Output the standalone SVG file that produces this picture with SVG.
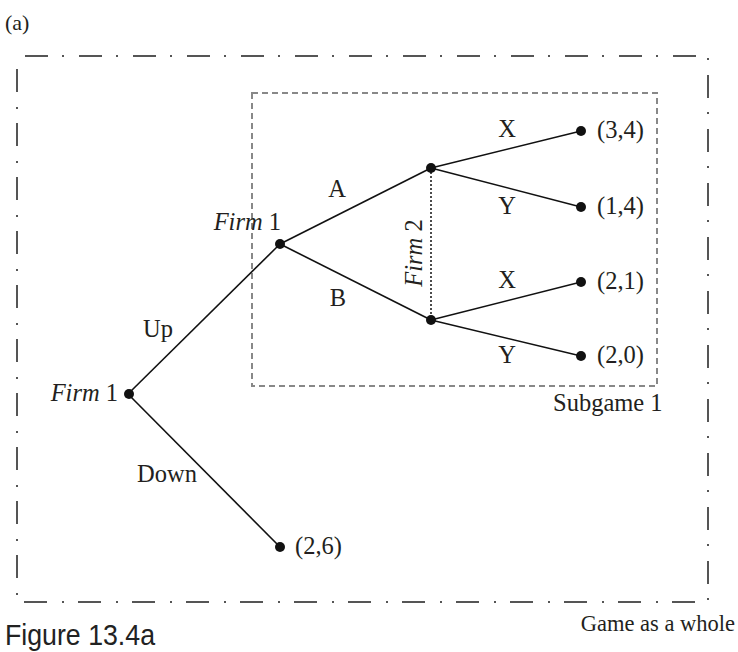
<svg xmlns="http://www.w3.org/2000/svg" width="738" height="652" viewBox="0 0 738 652">
<style>
.t{font-family:"Liberation Serif","Times New Roman",serif;font-size:24.5px;fill:#231f20}
.i{font-style:italic}
.e{stroke:#111;stroke-width:1.6;fill:none}
.d{fill:#111}
</style>
<rect width="738" height="652" fill="#fff"/>
<text class="t" x="5" y="30" style="font-size:22px">(a)</text>
<g id="frames">
<path d="M25,56 L708,56 L708,602 L17,602 L17,56" fill="none" stroke="#555" stroke-width="2" stroke-dasharray="23 14 2 15"/>
<rect x="252" y="93" width="405" height="293" fill="none" stroke="#888" stroke-width="2" stroke-dasharray="6 4"/>
</g>
<g id="connectors">
<line class="e" x1="128" y1="394" x2="280" y2="244"/>
<line class="e" x1="128" y1="394" x2="280" y2="547"/>
<line class="e" x1="280" y1="244" x2="431" y2="168"/>
<line class="e" x1="280" y1="244" x2="431" y2="320"/>
<line class="e" x1="431" y1="168" x2="581" y2="131"/>
<line class="e" x1="431" y1="168" x2="581" y2="207"/>
<line class="e" x1="431" y1="320" x2="581" y2="282"/>
<line class="e" x1="431" y1="320" x2="581" y2="356"/>
<line x1="431" y1="168" x2="431" y2="320" stroke="#111" stroke-width="1.5" stroke-dasharray="2 2"/>
</g>
<g id="labels">
<text class="t" x="158" y="337" text-anchor="middle">Up</text>
<text class="t" x="167" y="482" text-anchor="middle">Down</text>
<text class="t" x="337" y="197" text-anchor="middle">A</text>
<text class="t" x="338" y="306" text-anchor="middle">B</text>
<text class="t" x="507" y="137" text-anchor="middle">X</text>
<text class="t" x="507" y="214" text-anchor="middle">Y</text>
<text class="t" x="507" y="288" text-anchor="middle">X</text>
<text class="t" x="507" y="363" text-anchor="middle">Y</text>
</g>
<g id="root"><circle class="d" cx="129" cy="394" r="5"/><text class="t" x="118" y="401" text-anchor="end"><tspan class="i">Firm</tspan> 1</text></g>
<g id="firm1"><circle class="d" cx="280" cy="244" r="5"/><text class="t" x="281" y="230" text-anchor="end"><tspan class="i">Firm</tspan> 1</text></g>
<g id="firm2a"><circle class="d" cx="431" cy="168" r="5"/></g>
<g id="firm2b"><circle class="d" cx="431" cy="320" r="5"/></g>
<g id="firm2label"><text class="t" transform="translate(422,253) rotate(-90)" text-anchor="middle"><tspan class="i">Firm</tspan> 2</text></g>
<g id="p34"><circle class="d" cx="581" cy="131" r="5"/><text class="t" x="597" y="138">(3,4)</text></g>
<g id="p14"><circle class="d" cx="581" cy="207" r="5"/><text class="t" x="597" y="214">(1,4)</text></g>
<g id="p21"><circle class="d" cx="581" cy="282" r="5"/><text class="t" x="597" y="289">(2,1)</text></g>
<g id="p20"><circle class="d" cx="581" cy="356" r="5"/><text class="t" x="597" y="363">(2,0)</text></g>
<g id="p26"><circle class="d" cx="280" cy="547" r="5"/><text class="t" x="295" y="554">(2,6)</text></g>
<text class="t" x="553" y="411">Subgame 1</text>
<text class="t" x="735" y="631" text-anchor="end" style="font-size:22.5px">Game as a whole</text>
<text x="5" y="645" textLength="150" lengthAdjust="spacingAndGlyphs" style="font-family:'Liberation Sans',Arial,sans-serif;font-size:30px;fill:#222">Figure 13.4a</text>
</svg>
